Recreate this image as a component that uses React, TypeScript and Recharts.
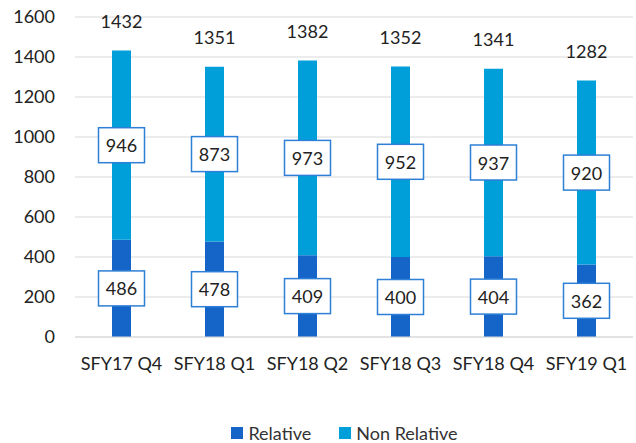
import React from 'react';
import { Bar, BarChart, CartesianGrid, LabelList, Legend, XAxis, YAxis } from 'recharts';

const quarters = ['SFY17 Q4', 'SFY18 Q1', 'SFY18 Q2', 'SFY18 Q3', 'SFY18 Q4', 'SFY19 Q1'];
const relative = [486, 478, 409, 400, 404, 362];
const nonRelative = [946, 873, 973, 952, 937, 920];
const yTicks = [0, 200, 400, 600, 800, 1000, 1200, 1400, 1600];

const DARK = '#1565c8';
const LIGHT = '#009fda';
const FONT = 'Lato, "Open Sans", sans-serif';

const data = quarters.map((q, i) => ({
  quarter: q,
  relative: relative[i],
  nonRelative: nonRelative[i],
  total: relative[i] + nonRelative[i],
}));

const BoxLabel = (props: any) => {
  const { x, y, width, height, value } = props;
  const cx = x + width / 2;
  const cy = y + height / 2;
  const w = 46;
  const h = 35;
  return (
    <g>
      <rect x={cx - w / 2} y={cy - h / 2} width={w} height={h} fill="#fff" stroke="#2e7fd6" strokeWidth={1.5} />
      <text x={cx} y={cy} textAnchor="middle" dominantBaseline="central" fontSize={18} fill="#222" fontFamily={FONT}>
        {value}
      </text>
    </g>
  );
};

const TotalLabel = (props: any) => {
  const { x, y, width, value } = props;
  return (
    <text x={x + width / 2} y={y - 30} textAnchor="middle" dominantBaseline="central" fontSize={18} fill="#222" fontFamily={FONT}>
      {value}
    </text>
  );
};

const LegendContent = () => (
  <div
    style={{
      boxSizing: 'border-box',
      height: 40,
      paddingTop: 20,
      paddingLeft: 56,
      display: 'flex',
      justifyContent: 'center',
      alignItems: 'center',
      fontFamily: FONT,
      fontSize: 18,
      color: '#333',
    }}
  >
    <span style={{ display: 'inline-block', width: 12, height: 12, background: DARK, marginRight: 5 }} />
    <span style={{ marginRight: 28 }}>Relative</span>
    <span style={{ display: 'inline-block', width: 12, height: 12, background: LIGHT, marginRight: 5 }} />
    <span>Non Relative</span>
  </div>
);

export default function App() {
  return (
    <div style={{ position: 'absolute', left: 0, top: 0, width: 636, height: 443, background: '#fff' }}>
      <BarChart width={636} height={443} data={data} margin={{ top: 17, right: 3, left: 0, bottom: 0 }} barSize={19}>
        <CartesianGrid vertical={false} stroke="#d9d9d9" />
        <XAxis
          dataKey="quarter"
          axisLine={{ stroke: '#d9d9d9' }}
          tickLine={false}
          tickSize={0}
          tickMargin={20}
          height={66}
          tick={{ fontSize: 18, fill: '#222', fontFamily: FONT }}
          interval={0}
        />
        <YAxis
          domain={[0, 1600]}
          ticks={yTicks}
          axisLine={false}
          tickLine={false}
          tickSize={0}
          tickMargin={20}
          width={75}
          tick={{ fontSize: 18, fill: '#222', fontFamily: FONT }}
        />
        <Legend verticalAlign="bottom" height={40} content={<LegendContent />} />
        <Bar dataKey="relative" name="Relative" stackId="a" fill={DARK} isAnimationActive={false}>
          <LabelList dataKey="relative" content={<BoxLabel />} />
        </Bar>
        <Bar dataKey="nonRelative" name="Non Relative" stackId="a" fill={LIGHT} isAnimationActive={false}>
          <LabelList dataKey="nonRelative" content={<BoxLabel />} />
          <LabelList dataKey="total" content={<TotalLabel />} />
        </Bar>
      </BarChart>
    </div>
  );
}
